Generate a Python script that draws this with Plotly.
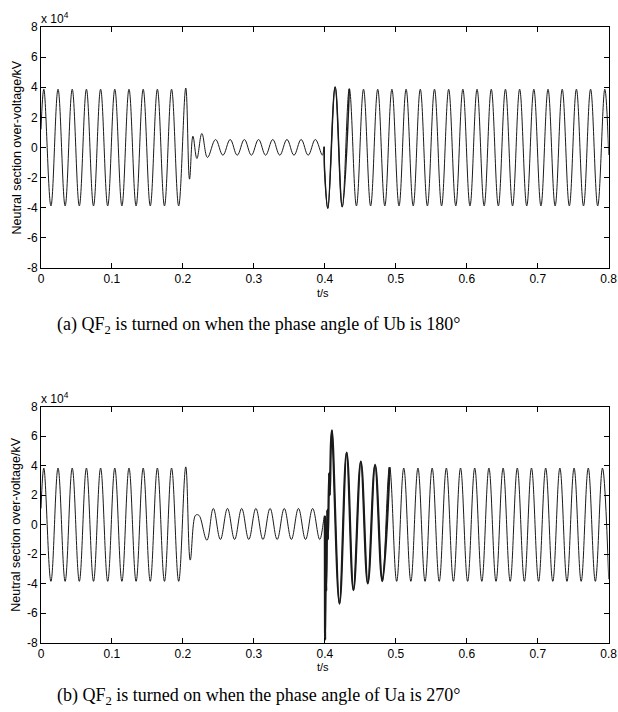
import plotly.graph_objects as go

# ---------------- data (values in units of 1e4 kV) ----------------
# (a) Ub at 180 deg
A_T_PRE = [0.000, 0.004, 0.014, 0.024, 0.034, 0.044, 0.054, 0.064, 0.074, 0.084, 0.094,
           0.104, 0.114, 0.124, 0.134, 0.144, 0.154, 0.164, 0.174, 0.184, 0.194, 0.204]
A_V_PRE = [1.20, 3.87, -3.88, 3.87, -3.88, 3.87, -3.88, 3.87, -3.88, 3.87, -3.88,
           3.87, -3.88, 3.87, -3.88, 3.87, -3.88, 3.87, -3.88, 3.87, -3.88, 3.95]
A_T_MID = [0.2093, 0.2141, 0.2197, 0.2267, 0.2346, 0.2460, 0.2563, 0.2666, 0.2765, 0.2866, 0.2965,
           0.3066, 0.3165, 0.3266, 0.3365, 0.3466, 0.3565, 0.3666, 0.3765, 0.3866, 0.3965, 0.3990]
A_V_MID = [-2.10, 0.75, -0.73, 0.93, -0.66, 0.53, -0.51, 0.53, -0.51, 0.53, -0.51,
           0.53, -0.51, 0.53, -0.51, 0.53, -0.51, 0.53, -0.51, 0.53, -0.51, 0.05]
A_T_SWITCH = [0.3996, 0.4042, 0.4145, 0.4245]
A_V_SWITCH = [-1.50, -4.04, 4.02, -3.94]
A_T_POST = [0.4345, 0.4445, 0.4545, 0.4645, 0.4745, 0.4845, 0.4945, 0.5045, 0.5145, 0.5245,
            0.5345, 0.5445, 0.5545, 0.5645, 0.5745, 0.5845, 0.5945, 0.6045, 0.6145, 0.6245,
            0.6345, 0.6445, 0.6545, 0.6645, 0.6745, 0.6845, 0.6945, 0.7045, 0.7145, 0.7245,
            0.7345, 0.7445, 0.7545, 0.7645, 0.7745, 0.7845, 0.7945, 0.8000]
A_V_POST = [3.90, -3.88, 3.87, -3.88, 3.87, -3.88, 3.87, -3.88, 3.87, -3.88,
            3.87, -3.88, 3.87, -3.88, 3.87, -3.88, 3.87, -3.88, 3.87, -3.88,
            3.87, -3.88, 3.87, -3.88, 3.87, -3.88, 3.87, -3.88, 3.87, -3.88,
            3.87, -3.88, 3.87, -3.88, 3.87, -3.88, 3.87, -0.50]

# (b) Ua at 270 deg
B_T_PRE = [0.000, 0.004, 0.014, 0.024, 0.034, 0.044, 0.054, 0.064, 0.074, 0.084, 0.094,
           0.104, 0.114, 0.124, 0.134, 0.144, 0.154, 0.164, 0.174, 0.184, 0.194, 0.204]
B_V_PRE = [1.10, 3.84, -3.84, 3.84, -3.84, 3.84, -3.84, 3.84, -3.84, 3.84, -3.84,
           3.84, -3.84, 3.84, -3.84, 3.84, -3.84, 3.84, -3.84, 3.84, -3.84, 3.92]
B_T_MID = [0.2103, 0.2172, 0.2200, 0.2232, 0.2338, 0.2428, 0.2528, 0.2628, 0.2728, 0.2828, 0.2928,
           0.3028, 0.3128, 0.3228, 0.3328, 0.3428, 0.3528, 0.3628, 0.3728, 0.3828, 0.3928, 0.4000]
B_V_MID = [-2.40, 0.60, 0.68, 0.60, -1.05, 1.10, -1.00, 1.10, -1.00, 1.10, -1.00,
           1.10, -1.00, 1.10, -1.00, 1.10, -1.00, 1.10, -1.00, 1.10, -1.00, 0.60]
B_T_SWITCH = [0.4004, 0.4012, 0.4020, 0.4034, 0.4044, 0.4060, 0.4070, 0.4086, 0.4100,
              0.4206, 0.4307, 0.4403, 0.4507, 0.4605, 0.4708, 0.4810]
B_V_SWITCH = [-7.80, -2.50, -4.50, 1.00, -1.00, 3.50, 2.00, 5.50, 6.40,
              -5.35, 4.88, -4.43, 4.28, -3.98, 4.05, -3.82]
B_T_POST = [0.4912, 0.5012, 0.5112, 0.5212, 0.5312, 0.5412, 0.5512, 0.5612, 0.5712, 0.5812,
            0.5912, 0.6012, 0.6112, 0.6212, 0.6312, 0.6412, 0.6512, 0.6612, 0.6712, 0.6812,
            0.6912, 0.7012, 0.7112, 0.7212, 0.7312, 0.7412, 0.7512, 0.7612, 0.7712, 0.7812,
            0.7912, 0.8000]
B_V_POST = [3.90, -3.84, 3.84, -3.84, 3.84, -3.84, 3.84, -3.84, 3.84, -3.84,
            3.84, -3.84, 3.84, -3.84, 3.84, -3.84, 3.84, -3.84, 3.84, -3.84,
            3.84, -3.84, 3.84, -3.84, 3.84, -3.84, 3.84, -3.84, 3.84, -3.84,
            3.84, -3.70]

X_TICKS = [0, 0.1, 0.2, 0.3, 0.4, 0.5, 0.6, 0.7, 0.8]
X_TICK_TEXT = ["0", "0.1", "0.2", "0.3", "0.4", "0.5", "0.6", "0.7", "0.8"]
Y_TICKS = [-8, -6, -4, -2, 0, 2, 4, 6, 8]
Y_TICK_TEXT = ["-8", "-6", "-4", "-2", "0", "2", "4", "6", "8"]

Y_TITLE = "Neutral section over-voltage/kV"
X_TITLE = "t/s"
CAPTION_A = "(a) QF<sub>2</sub> is turned on when the phase angle of Ub is 180°"
CAPTION_B = "(b) QF<sub>2</sub> is turned on when the phase angle of Ua is 270°"

# ---------------- figure ----------------
W, H = 618, 712
LINE = "#1a1a1a"
fig = go.Figure()


def px_x(p):
    return p / W


def px_y(p):
    return 1 - p / H


def add_wave(t, v, xa, ya, width=1.0):
    fig.add_trace(go.Scatter(x=t, y=v, mode="lines", xaxis=xa, yaxis=ya,
                             line=dict(color=LINE, width=width, shape="spline",
                                       smoothing=1.1, simplify=False),
                             hoverinfo="skip", showlegend=False))


a_t = A_T_PRE + A_T_MID + A_T_SWITCH + A_T_POST
a_v = A_V_PRE + A_V_MID + A_V_SWITCH + A_V_POST
b_t = B_T_PRE + B_T_MID + B_T_SWITCH + B_T_POST
b_v = B_V_PRE + B_V_MID + B_V_SWITCH + B_V_POST

add_wave(a_t, a_v, "x", "y")
add_wave(A_T_MID[-1:] + A_T_SWITCH + A_T_POST[:1], A_V_MID[-1:] + A_V_SWITCH + A_V_POST[:1], "x", "y", 1.5)
add_wave(b_t, b_v, "x2", "y2")
add_wave(B_T_MID[-1:] + B_T_SWITCH + B_T_POST[:1], B_V_MID[-1:] + B_V_SWITCH + B_V_POST[:1], "x2", "y2", 2.2)

x_dom = [px_x(41), px_x(608.7)]
top = [27, 268]
bot = [406.7, 642.7]

axis_common = dict(showline=True, linecolor="black", linewidth=1, mirror="ticks",
                   ticks="inside", ticklen=5, tickwidth=1, tickcolor="black",
                   showgrid=False, zeroline=False, automargin=False,
                   ticklabeloverflow="allow",
                   tickfont=dict(family="Arial, Liberation Sans", size=12, color="black"))

fig.update_layout(
    width=W, height=H, margin=dict(l=0, r=0, t=0, b=0, pad=0),
    paper_bgcolor="white", plot_bgcolor="white", showlegend=False,
    xaxis=dict(domain=x_dom, anchor="y", range=[0, 0.8], tickvals=X_TICKS,
               ticktext=X_TICK_TEXT, **axis_common),
    yaxis=dict(domain=[px_y(top[1]), px_y(top[0])], anchor="x", range=[-8, 8],
               tickvals=Y_TICKS, ticktext=Y_TICK_TEXT, **axis_common),
    xaxis2=dict(domain=x_dom, anchor="y2", range=[0, 0.8], tickvals=X_TICKS,
                ticktext=X_TICK_TEXT, **axis_common),
    yaxis2=dict(domain=[px_y(bot[1]), px_y(bot[0])], anchor="x2", range=[-8, 8],
                tickvals=Y_TICKS, ticktext=Y_TICK_TEXT, **axis_common),
)

sans = dict(family="Arial, Liberation Sans", size=12.5, color="black")
serif = dict(family="Liberation Serif, Times New Roman", size=18, color="black")
ann = []
for (ytop, ybot, ytitle) in [(top[0], top[1], 293), (bot[0], bot[1], 667)]:
    ann.append(dict(text=Y_TITLE, x=px_x(16), y=px_y((ytop + ybot) / 2), xref="paper", yref="paper",
                    textangle=-90, showarrow=False, font=sans, xanchor="center", yanchor="middle"))
    ann.append(dict(text="x 10<sup>4</sup>", x=px_x(39), y=px_y(ytop - 9), xref="paper", yref="paper",
                    showarrow=False, font=dict(family="Arial, Liberation Sans", size=12, color="black"),
                    xanchor="left", yanchor="middle"))
    ann.append(dict(text=X_TITLE, x=px_x(323), y=px_y(ytitle), xref="paper", yref="paper",
                    showarrow=False, font=dict(family="Arial, Liberation Sans", size=11, color="black"),
                    xanchor="center", yanchor="middle"))
ann.append(dict(text=CAPTION_A, x=px_x(258), y=px_y(326), xref="paper", yref="paper",
                showarrow=False, font=serif, xanchor="center", yanchor="middle"))
ann.append(dict(text=CAPTION_B, x=px_x(258), y=px_y(696), xref="paper", yref="paper",
                showarrow=False, font=serif, xanchor="center", yanchor="middle"))
fig.update_layout(annotations=ann)

fig.write_html("out.html", config={"displayModeBar": False},
               post_script="document.body.style.margin='0';document.body.style.overflow='hidden';")
